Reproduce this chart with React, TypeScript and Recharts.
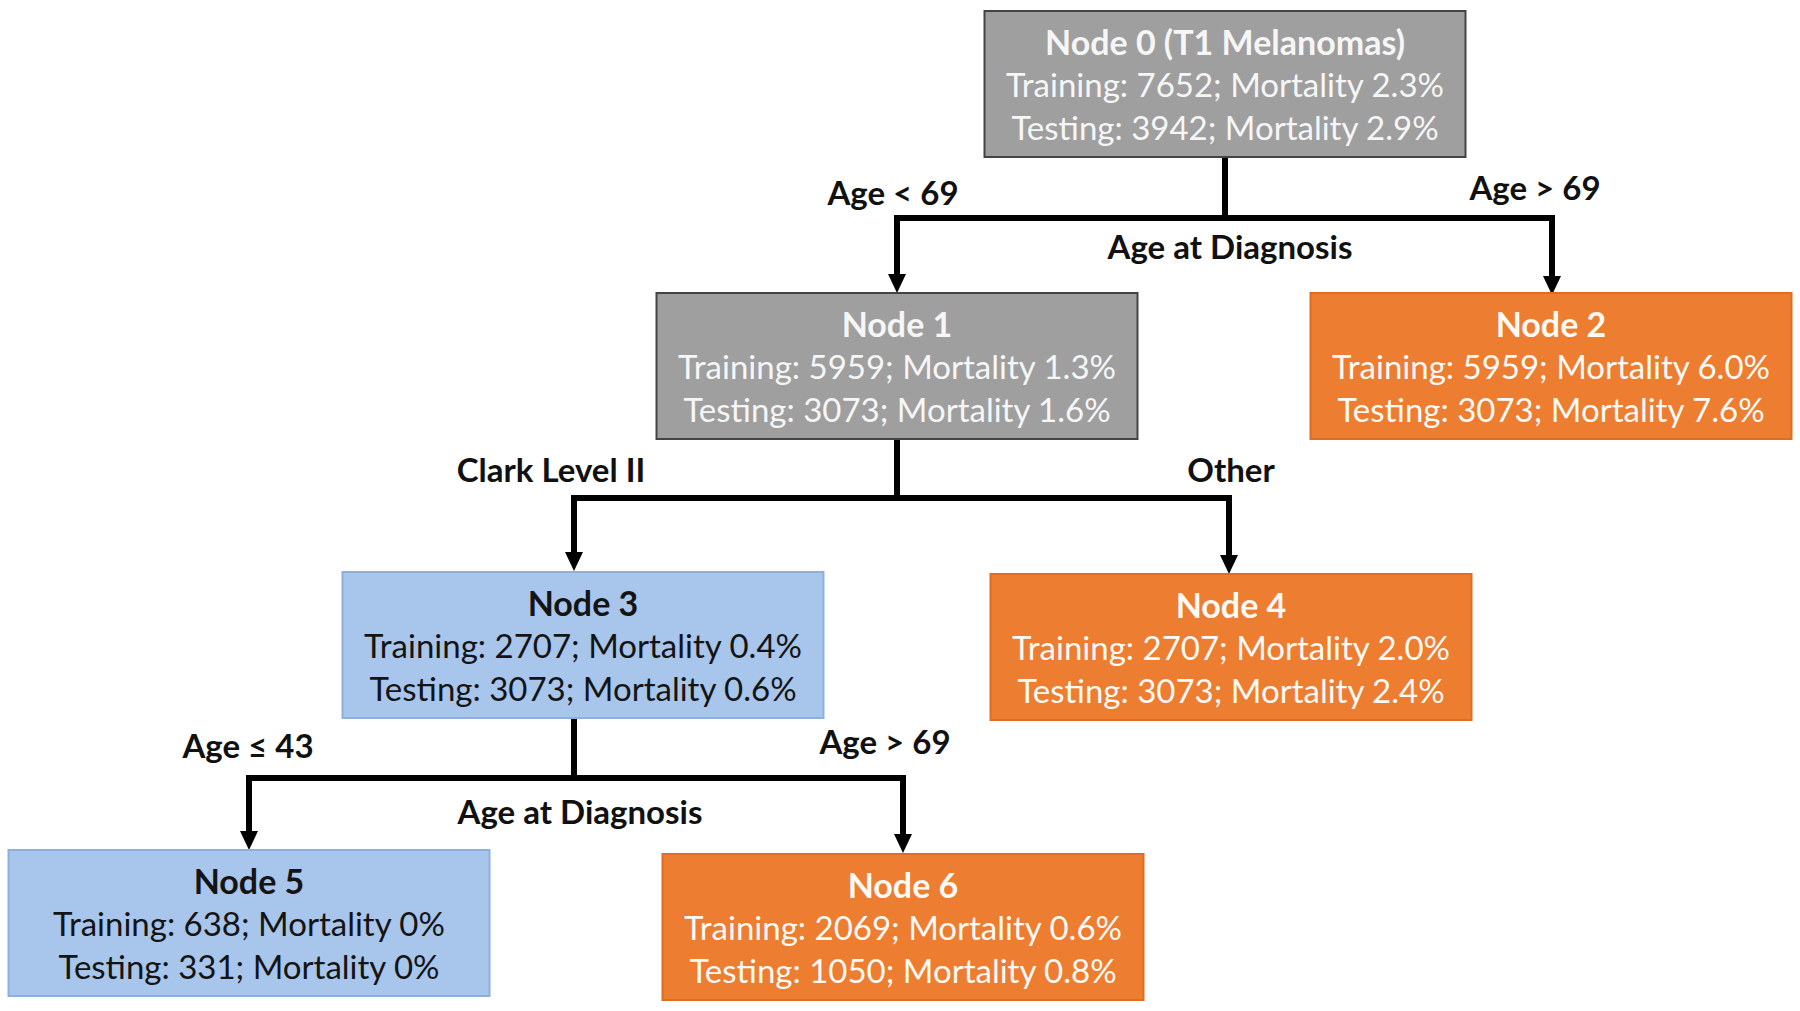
import React from "react";
import { ScatterChart, Scatter, XAxis, YAxis, ReferenceLine } from "recharts";

// node contents
const nodeTitles = ["Node 0 (T1 Melanomas)", "Node 1", "Node 2", "Node 3", "Node 4", "Node 5", "Node 6"];
const trainingN = [7652, 5959, 5959, 2707, 2707, 638, 2069];
const trainingMortality = ["2.3%", "1.3%", "6.0%", "0.4%", "2.0%", "0%", "0.6%"];
const testingN = [3942, 3073, 3073, 3073, 3073, 331, 1050];
const testingMortality = ["2.9%", "1.6%", "7.6%", "0.6%", "2.4%", "0%", "0.8%"];
const nodeRisk = ["split", "split", "high", "low", "high", "low", "high"];

// splits: parent -> [left child, right child]
const splitParent = [0, 1, 3];
const splitChildren = [
  [1, 2],
  [3, 4],
  [5, 6],
];
const splitVariable = ["Age at Diagnosis", "", "Age at Diagnosis"];
const leftBranchLabel = ["Age < 69", "Clark Level II", "Age ≤ 43"];
const rightBranchLabel = ["Age > 69", "Other", "Age > 69"];

// layout (diagram units)
const W = 1800;
const H = 1011;
const nodeX = [1225, 897, 1551, 583, 1231, 249, 903];
const nodeY = [84, 366, 366, 645, 647, 923, 927];
const arrowX = [1225, 897, 1552, 574, 1229, 249, 903];
const nodeTop = [10, 293, 295, 571, 574, 850, 853];
const nodeBottom = [157, 439, 437, 719, 721, 996, 1000];
const barY = [218, 498, 778];
const leftLabelPos = [
  [893, 205],
  [551, 482],
  [248, 758],
];
const rightLabelPos = [
  [1535, 200],
  [1231, 482],
  [885, 754],
];
const varLabelPos = [
  [1230, 259],
  [0, 0],
  [580, 824],
];

const BOX_W = 481;
const BOX_H = 146;
const FONT = "Lato, 'Open Sans', sans-serif";

const riskStyle: Record<string, { fill: string; stroke: string; text: string }> = {
  split: { fill: "#9f9f9f", stroke: "#444444", text: "#f6f6f6" },
  high: { fill: "#ed7d31", stroke: "#e06c22", text: "#fffaf5" },
  low: { fill: "#a8c5eb", stroke: "#8eb0de", text: "#141414" },
};

const nodes = nodeTitles.map((title, i) => ({
  x: nodeX[i],
  y: nodeY[i],
  title,
  line1: `Training: ${trainingN[i]}; Mortality ${trainingMortality[i]}`,
  line2: `Testing: ${testingN[i]}; Mortality ${testingMortality[i]}`,
  risk: nodeRisk[i],
}));

const labels: { x: number; y: number; text: string }[] = [];
splitParent.forEach((_, s) => {
  labels.push({ x: leftLabelPos[s][0], y: leftLabelPos[s][1], text: leftBranchLabel[s] });
  labels.push({ x: rightLabelPos[s][0], y: rightLabelPos[s][1], text: rightBranchLabel[s] });
  if (splitVariable[s]) labels.push({ x: varLabelPos[s][0], y: varLabelPos[s][1], text: splitVariable[s] });
});

const NodeBox = (props: any) => {
  const { cx, cy, payload } = props;
  const st = riskStyle[payload.risk];
  return (
    <g>
      <rect
        x={cx - BOX_W / 2}
        y={cy - BOX_H / 2}
        width={BOX_W}
        height={BOX_H}
        fill={st.fill}
        stroke={st.stroke}
        strokeWidth={2}
      />
      <text x={cx} y={cy - 43} textAnchor="middle" dominantBaseline="central" fontFamily={FONT} fontSize={34} fontWeight={700} fill={st.text}>
        {payload.title}
      </text>
      <text x={cx} y={cy} textAnchor="middle" dominantBaseline="central" fontFamily={FONT} fontSize={33} fill={st.text}>
        {payload.line1}
      </text>
      <text x={cx} y={cy + 43} textAnchor="middle" dominantBaseline="central" fontFamily={FONT} fontSize={33} fill={st.text}>
        {payload.line2}
      </text>
    </g>
  );
};

const BranchLabel = (props: any) => {
  const { cx, cy, payload } = props;
  return (
    <text x={cx} y={cy} textAnchor="middle" fontFamily={FONT} fontSize={33} fontWeight={700} fill="#111111">
      {payload.text}
    </text>
  );
};

const Arrow = (props: any) => {
  const { x1, y1, x2, y2 } = props;
  return (
    <g>
      <line x1={x1} y1={y1} x2={x2} y2={y2 - 16} stroke="#000" strokeWidth={6} />
      <polygon points={`${x2 - 9},${y2 - 19} ${x2 + 9},${y2 - 19} ${x2},${y2}`} fill="#000" />
    </g>
  );
};

export default function App() {
  return (
    <div style={{ position: "absolute", left: 0, top: 0, width: W, height: H, background: "#fff" }}>
      <ScatterChart width={W} height={H} margin={{ top: 0, right: 0, bottom: 0, left: 0 }}>
        <XAxis type="number" dataKey="x" domain={[0, W]} allowDataOverflow hide />
        <YAxis type="number" dataKey="y" domain={[0, H]} allowDataOverflow reversed hide />

        {splitParent.map((p, s) => {
          const [l, r] = splitChildren[s];
          return (
            <React.Fragment key={s}>
              <ReferenceLine
                segment={[
                  { x: arrowX[p], y: nodeBottom[p] },
                  { x: arrowX[p], y: barY[s] },
                ]}
                stroke="#000"
                strokeWidth={6}
              />
              <ReferenceLine
                segment={[
                  { x: arrowX[l], y: barY[s] },
                  { x: arrowX[r], y: barY[s] },
                ]}
                stroke="#000"
                strokeWidth={6}
                strokeLinecap="square"
              />
              <ReferenceLine
                segment={[
                  { x: arrowX[l], y: barY[s] },
                  { x: arrowX[l], y: nodeTop[l] },
                ]}
                shape={Arrow}
              />
              <ReferenceLine
                segment={[
                  { x: arrowX[r], y: barY[s] },
                  { x: arrowX[r], y: nodeTop[r] },
                ]}
                shape={Arrow}
              />
            </React.Fragment>
          );
        })}

        <Scatter data={nodes} shape={NodeBox} isAnimationActive={false} legendType="none" />
        <Scatter data={labels} shape={BranchLabel} isAnimationActive={false} legendType="none" />
      </ScatterChart>
    </div>
  );
}
